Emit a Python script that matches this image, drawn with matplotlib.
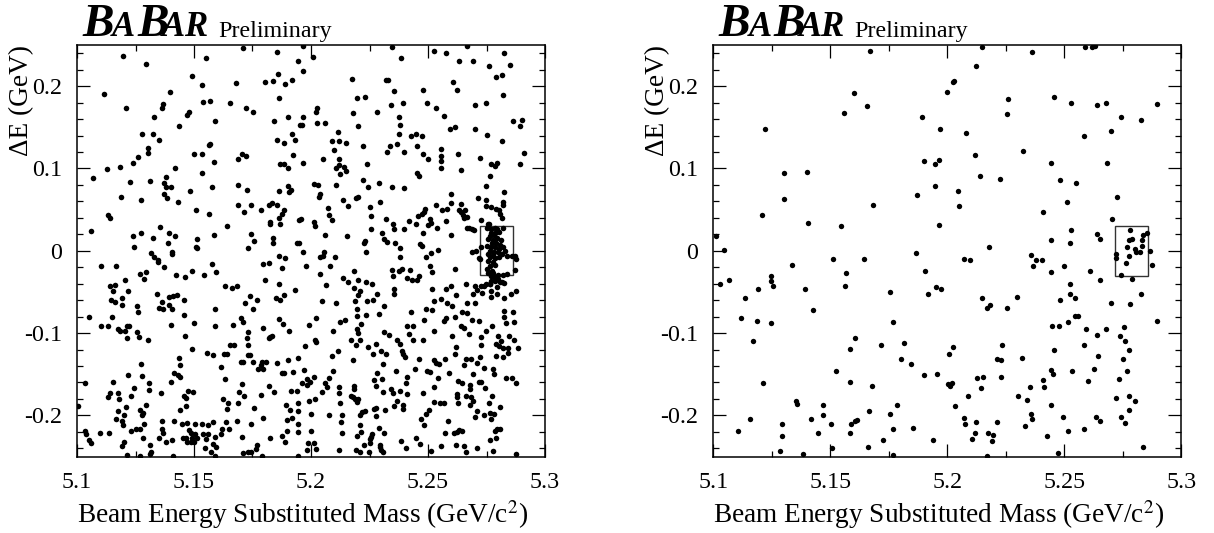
import numpy as np
import matplotlib
matplotlib.use('Agg')
import matplotlib.pyplot as plt
from matplotlib.patches import Rectangle
from matplotlib.ticker import MultipleLocator, FixedLocator, FixedFormatter

plt.rcParams['font.family'] = ['Liberation Serif', 'DejaVu Serif']

x_ticks = [5.1, 5.15, 5.2, 5.25, 5.3]
x_tick_labels = ['5.1', '5.15', '5.2', '5.25', '5.3']
y_ticks = [-0.2, -0.1, 0, 0.1, 0.2]
y_tick_labels = ['-0.2', '-0.1', '0', '0.1', '0.2']

# (mES, deltaE) procitano sa slike
left_upper_a = [
    (5.1709,.246),(5.1855,.241),(5.1195,.237),(5.1943,.231),(5.1550,.234),(5.1296,.227),(5.1858,.215),(5.1493,.212),
    (5.1681,.204),(5.1802,.205),(5.1839,.206),(5.1889,.203),(5.1920,.207),(5.1533,.202),(5.1397,.193),(5.1117,.191),
    (5.1865,.185),(5.1537,.181),(5.1568,.182),(5.1652,.179),(5.1369,.178),(5.1208,.174),(5.1365,.173),(5.1722,.173),
    (5.1751,.168),(5.1480,.169),(5.1470,.165),(5.1328,.162),(5.1900,.163),(5.1591,.158),(5.1840,.158),(5.1436,.152),
    (5.1952,.153),(5.1278,.142),(5.1325,.142),(5.1919,.142),(5.1349,.135),(5.1853,.134),(5.1932,.135),(5.1885,.131),
    (5.1567,.130),(5.1564,.128),(5.1303,.125),(5.1305,.119),(5.1499,.118),(5.1533,.118),(5.1704,.118),(5.1721,.115),
    (5.1689,.111),(5.1923,.116),(5.1259,.114),(5.1241,.107),(5.1585,.108),(5.1868,.106),(5.1886,.105),(5.1903,.100),
    (5.1185,.102),(5.1420,.101),(5.1128,.099),(5.1534,.095),(5.1070,.089),(5.1380,.090),(5.1313,.085),(5.1225,.084),
    (5.1372,.082),(5.1382,.078),(5.1402,.077),(5.1577,.078),(5.1688,.080),(5.1902,.079),(5.1725,.074),(5.1481,.072),
    (5.1862,.073),(5.1905,.071),(5.1915,.074),(5.1370,.069),(5.1187,.065),(5.1383,.064),(5.1272,.062),(5.1433,.059),
    (5.1688,.056),(5.1742,.055),(5.1819,.055),(5.1835,.058),(5.1855,.056),(5.1786,.050),(5.1712,.047),(5.1509,.050),
    (5.1564,.045),(5.1886,.050),(5.1876,.045),(5.1862,.040),(5.1134,.044),(5.1142,.040),(5.1949,.037),(5.1825,.035),
    (5.1826,.032),(5.1868,.033),(5.1641,.030),(5.1356,.029),(5.1058,.024),(5.1274,.022),(5.1395,.022),(5.1745,.020),
    (5.1239,.018),(5.1420,.018),(5.1584,.019),(5.1323,.015),(5.1839,.016),(5.1511,.014),(5.1758,.012),(5.1390,.010),
    (5.1839,.009),(5.1940,.010),(5.1245,.005),(5.1507,.005),(5.1513,.003),(5.1731,.003),(5.1407,-.002),(5.1406,-.004),
    (5.1315,-.003),(5.1330,-.007),(5.1862,-.006),(5.1887,-.009),(5.1348,-.011),
]
left_upper_b = [
    (5.1964,.249),(5.2346,.248),(5.2668,.249),(5.2524,.243),(5.2578,.240),(5.2823,.240),(5.2007,.235),(5.2386,.234),
    (5.2631,.230),(5.2691,.231),(5.2849,.226),(5.2759,.225),(5.1967,.219),(5.2816,.214),(5.2791,.211),(5.2175,.209),
    (5.2322,.208),(5.2329,.208),(5.2608,.205),(5.2356,.194),(5.2479,.195),(5.2624,.195),(5.2821,.189),(5.2195,.186),
    (5.2231,.187),(5.2497,.180),(5.2393,.180),(5.2342,.177),(5.2702,.177),(5.2749,.179),(5.2534,.173),(5.2024,.173),
    (5.2021,.168),(5.2178,.167),(5.2283,.168),(5.2567,.164),(5.1964,.163),(5.2377,.162),(5.2903,.159),(5.2862,.158),
    (5.2026,.155),(5.2061,.155),(5.1960,.153),(5.2379,.153),(5.2199,.152),(5.2893,.152),(5.2615,.150),(5.2593,.148),
    (5.2699,.148),(5.2114,.144),(5.2449,.142),(5.2377,.142),(5.2754,.141),(5.2426,.139),(5.2473,.139),(5.2091,.133),
    (5.2118,.133),(5.2818,.133),(5.2151,.131),(5.2369,.130),(5.2224,.127),(5.2453,.127),(5.2336,.127),(5.2554,.124),
    (5.2100,.122),(5.2323,.120),(5.2397,.120),(5.2912,.119),(5.2480,.118),(5.2630,.117),(5.2556,.115),(5.2724,.113),
    (5.2499,.112),(5.2051,.112),(5.2118,.111),(5.2556,.109),(5.1967,.107),(5.2771,.106),(5.2795,.107),(5.2785,.103),
    (5.2892,.106),(5.2239,.105),(5.2118,.104),(5.2142,.102),(5.2107,.100),(5.2557,.101),(5.2148,.097),(5.2642,.098),
    (5.2125,.093),(5.2452,.094),(5.2460,.091),(5.2766,.091),(5.2222,.086),(5.2011,.081),(5.2028,.080),(5.2107,.080),
    (5.2291,.082),(5.2749,.079),(5.2242,.077),(5.2348,.077),(5.2396,.076),(5.2826,.071),(5.2600,.069),(5.2040,.069),
    (5.2033,.065),(5.2201,.065),(5.2191,.064),(5.2712,.064),(5.2137,.062),(5.2749,.062),(5.2296,.059),(5.2821,.059),
    (5.2597,.058),(5.2640,.057),(5.2820,.056),(5.2160,.054),(5.2534,.055),(5.2252,.053),(5.2748,.054),(5.2769,.053),
    (5.2074,.052),(5.2560,.050),(5.2583,.051),(5.2487,.051),(5.2791,.051),(5.2802,.049),(5.2631,.049),(5.2640,.047),
    (5.2657,.049),(5.2481,.047),(5.2806,.045),(5.2474,.045),(5.2078,.043),(5.2648,.043),(5.2459,.042),(5.2258,.042),
    (5.2816,.040),(5.2652,.040),(5.2668,.041),(5.1959,.039),(5.2319,.038),(5.2090,.037),(5.2510,.038),(5.2578,.036),
    (5.2725,.037),(5.2417,.036),(5.2014,.035),(5.2514,.034),(5.2761,.033),(5.2352,.032),(5.2450,.032),(5.2501,.031),
    (5.2017,.030),(5.2540,.028),(5.2353,.027),(5.2665,.028),(5.2675,.028),(5.2258,.027),(5.2396,.026),(5.2687,.027),
    (5.2698,.025),(5.2302,.021),(5.2479,.021),(5.2058,.019),(5.2155,.018),(5.2600,.019),(5.2311,.014),(5.2325,.011),
    (5.1947,.009),(5.2232,.012),(5.2225,.009),(5.2360,.009),(5.2467,.008),(5.2474,.006),(5.2379,.003),(5.2544,.001),
    (5.2511,-.003),(5.2687,-.002),(5.2707,.000),(5.2728,.005),(5.1966,-.002),(5.2057,-.001),(5.2236,-.001),(5.2050,-.006),
    (5.2037,-.008),(5.2103,-.008),(5.2380,-.008),(5.2490,-.008),(5.2719,-.009),
]
left_signal = [
    (5.2751,.028),(5.2768,.027),(5.2786,.028),(5.2796,.026),(5.2822,.028),(5.2786,.022),(5.2768,.021),(5.2805,.023),
    (5.2765,.018),(5.2782,.019),(5.2758,.014),(5.2776,.013),(5.2793,.015),(5.2811,.013),(5.2772,.009),(5.2791,.010),
    (5.2808,.007),(5.2754,.006),(5.2768,.004),(5.2786,.004),(5.2805,.002),(5.2822,.004),(5.2829,.000),(5.2765,.000),
    (5.2782,-.001),(5.2801,-.002),(5.2758,-.004),(5.2776,-.005),(5.2815,-.004),(5.2836,-.006),(5.2858,-.006),(5.2872,-.006),
    (5.2876,-.010),(5.2765,-.008),(5.2786,-.009),(5.2805,-.008),(5.2758,-.012),(5.2722,-.010),(5.2776,-.014),(5.2765,-.018),
    (5.2786,-.017),(5.2754,-.022),(5.2772,-.024),(5.2872,-.023),(5.2758,-.027),(5.2776,-.027),(5.2836,-.028),(5.2801,-.030),
    (5.2822,-.029),(5.2768,-.031),(5.2782,-.032),(5.2801,-.034),(5.2786,-.037),(5.2815,-.038),(5.2765,-.040),(5.2748,-.040),
    (5.2758,.033),
]
left_lower_a = [
    (5.1101,-.019),(5.1165,-.019),(5.1345,-.014),(5.1373,-.020),(5.1578,-.016),(5.1793,-.016),(5.1822,-.015),(5.1875,-.021),
    (5.1493,-.024),(5.1594,-.026),(5.1271,-.028),(5.1293,-.026),(5.1422,-.030),(5.1541,-.030),(5.1460,-.032),(5.1288,-.034),
    (5.1205,-.035),(5.1803,-.036),(5.1862,-.040),(5.1142,-.043),(5.1162,-.042),(5.1631,-.043),(5.1661,-.045),(5.1684,-.043),
    (5.1152,-.049),(5.1219,-.049),(5.1933,-.048),(5.1340,-.052),(5.1395,-.056),(5.1412,-.055),(5.1427,-.054),(5.1741,-.055),
    (5.1886,-.054),(5.1852,-.058),(5.1868,-.060),(5.1192,-.058),(5.1457,-.060),(5.1771,-.060),(5.1147,-.060),(5.1164,-.062),
    (5.1363,-.062),(5.1191,-.066),(5.1392,-.066),(5.1719,-.064),(5.1256,-.067),(5.1352,-.069),(5.1369,-.071),(5.1407,-.071),
    (5.1590,-.071),(5.1751,-.071),(5.1262,-.075),(5.1456,-.078),(5.1051,-.080),(5.1148,-.081),(5.1701,-.082),(5.1711,-.086),
    (5.1865,-.083),(5.1501,-.088),(5.1882,-.089),(5.1402,-.090),(5.1667,-.090),(5.1104,-.092),(5.1131,-.091),(5.1591,-.092),
    (5.1212,-.092),(5.1222,-.092),(5.1177,-.095),(5.1185,-.098),(5.1205,-.098),(5.1796,-.094),(5.1906,-.097),(5.1256,-.099),
    (5.1732,-.099),(5.1463,-.103),(5.1832,-.103),(5.1826,-.105),(5.1819,-.106),(5.1215,-.106),(5.1264,-.105),(5.1725,-.106),
    (5.1305,-.109),(5.1654,-.114),(5.1671,-.115),(5.1729,-.115),(5.1491,-.119),(5.1554,-.124),(5.1581,-.127),(5.1628,-.126),
    (5.1641,-.126),(5.1732,-.127),(5.1741,-.127),(5.1437,-.130),(5.1946,-.130),(5.1699,-.135),(5.1711,-.135),(5.1751,-.135),
    (5.1789,-.135),(5.1808,-.135),(5.1902,-.133),(5.1853,-.136),(5.1440,-.139),(5.1272,-.138),(5.1614,-.141),(5.1786,-.139),
    (5.1772,-.144),(5.1793,-.144),(5.1415,-.149),(5.1432,-.151),(5.1442,-.153),(5.1886,-.148),(5.1877,-.149),(5.1922,-.147),
    (5.1219,-.151),(5.1276,-.152),(5.1632,-.156),(5.1155,-.159),(5.1034,-.161),(5.1306,-.161),(5.1403,-.159),(5.1707,-.162),
    (5.1819,-.164),(5.1245,-.167),(5.1308,-.169),(5.1473,-.171),(5.1496,-.172),(5.1692,-.172),(5.1915,-.171),(5.1940,-.171),
    (5.1140,-.173),(5.1175,-.173),(5.1360,-.173),(5.1843,-.172),(5.1715,-.176),(5.1786,-.175),(5.1131,-.178),(5.1232,-.176),
    (5.1459,-.177),(5.1466,-.179),(5.1178,-.180),(5.1625,-.180),(5.1645,-.185),(5.1688,-.185),(5.1895,-.187),(5.1943,-.185),
    (5.1208,-.190),(5.1296,-.188),(5.1466,-.189),(5.1642,-.192),(5.1758,-.191),(5.1003,-.189),(5.1439,-.193),(5.1912,-.194),
    (5.1943,-.195),(5.1174,-.195),(5.1269,-.194),(5.1282,-.197),(5.1276,-.200),(5.1201,-.200),(5.1795,-.203),(5.1917,-.203),
    (5.1899,-.206),(5.1165,-.205),(5.1192,-.207),(5.1365,-.207),(5.1415,-.207),(5.1583,-.208),(5.1637,-.208),(5.1682,-.207),
    (5.1944,-.210),(5.1285,-.211),(5.1450,-.210),(5.1472,-.209),(5.1506,-.210),(5.1534,-.210),(5.1560,-.212),(5.1744,-.211),
    (5.1195,-.212),(5.1252,-.216),(5.1269,-.216),(5.1362,-.217),(5.1618,-.217),(5.1648,-.217),(5.1034,-.219),(5.1232,-.219),
    (5.1477,-.218),(5.1899,-.219),(5.1943,-.220),(5.1100,-.221),(5.1135,-.221),(5.1038,-.223),(5.1369,-.222),(5.1486,-.221),
    (5.1540,-.223),(5.1558,-.223),(5.1615,-.223),(5.1877,-.225),(5.1504,-.223),(5.1283,-.227),(5.1352,-.227),(5.1452,-.227),
    (5.1466,-.227),(5.1491,-.227),(5.1511,-.227),(5.1550,-.229),(5.1590,-.226),(5.1705,-.226),(5.1825,-.228),(5.1050,-.230),
    (5.1058,-.233),(5.1202,-.232),(5.1380,-.232),(5.1407,-.230),(5.1469,-.232),(5.1486,-.232),(5.1501,-.232),(5.1889,-.232),
    (5.1192,-.237),(5.1311,-.236),(5.1580,-.235),(5.1595,-.238),(5.1769,-.236),(5.1548,-.240),(5.1764,-.241),(5.1318,-.245),
    (5.1312,-.247),(5.1574,-.245),(5.1708,-.246),(5.1729,-.244),(5.1742,-.245),(5.1212,-.248),(5.1271,-.249),(5.1410,-.249),
    (5.1591,-.249),(5.1789,-.249),(5.1943,-.249),
]
left_lower_b = [
    (5.1979,-.019),(5.2080,-.018),(5.2185,-.024),(5.2345,-.023),(5.2376,-.024),(5.2390,-.022),(5.2425,-.023),(5.2509,-.019),
    (5.2615,-.022),(5.2517,-.026),(5.2038,-.028),(5.2349,-.031),(5.2410,-.033),(5.2432,-.035),(5.2453,-.035),(5.2462,-.031),
    (5.2137,-.033),(5.2202,-.035),(5.2158,-.038),(5.2236,-.038),(5.2261,-.040),(5.2066,-.042),(5.2662,-.041),(5.2699,-.043),
    (5.2726,-.043),(5.2741,-.043),(5.2769,-.037),(5.2766,-.041),(5.2795,-.044),(5.2809,-.038),(5.2826,-.039),(5.2598,-.043),
    (5.2577,-.046),(5.2182,-.045),(5.2353,-.047),(5.2355,-.052),(5.2208,-.049),(5.2201,-.054),(5.2282,-.053),(5.2517,-.047),
    (5.2709,-.048),(5.2692,-.052),(5.2731,-.051),(5.2769,-.049),(5.2769,-.056),(5.2795,-.053),(5.2823,-.058),(5.2855,-.053),
    (5.2876,-.049),(5.2621,-.054),(5.2554,-.059),(5.2524,-.061),(5.2047,-.061),(5.2105,-.063),(5.2189,-.061),(5.2241,-.061),
    (5.2264,-.060),(5.2581,-.064),(5.2603,-.067),(5.2702,-.064),(5.2668,-.064),(5.2312,-.067),(5.2197,-.071),(5.2490,-.071),
    (5.2516,-.072),(5.2429,-.075),(5.2823,-.073),(5.2863,-.074),(5.2645,-.075),(5.2667,-.076),(5.2291,-.077),(5.2197,-.079),
    (5.2235,-.078),(5.2617,-.081),(5.2021,-.082),(5.2147,-.084),(5.2125,-.087),(5.2484,-.084),(5.2567,-.085),(5.2577,-.082),
    (5.2687,-.084),(5.2718,-.085),(5.2823,-.080),(5.2832,-.088),(5.2869,-.086),(5.1993,-.090),(5.2215,-.089),(5.2410,-.092),
    (5.2436,-.092),(5.2774,-.091),(5.2642,-.091),(5.2652,-.094),(5.2093,-.098),(5.2195,-.095),(5.2199,-.100),(5.2524,-.097),
    (5.2749,-.098),(5.2313,-.099),(5.2332,-.102),(5.2419,-.101),(5.2675,-.101),(5.2603,-.104),(5.2725,-.105),(5.2798,-.104),
    (5.2845,-.104),(5.2017,-.108),(5.2023,-.111),(5.2172,-.108),(5.2208,-.109),(5.2192,-.114),(5.2369,-.109),(5.2382,-.113),
    (5.2434,-.109),(5.2480,-.108),(5.2812,-.110),(5.2866,-.109),(5.2792,-.113),(5.2803,-.116),(5.2821,-.118),(5.2883,-.118),
    (5.1976,-.116),(5.2245,-.117),(5.2279,-.113),(5.2621,-.117),(5.2725,-.115),(5.2840,-.118),(5.2843,-.124),(5.2117,-.122),
    (5.2301,-.122),(5.2319,-.126),(5.2390,-.122),(5.2393,-.126),(5.2402,-.129),(5.2265,-.126),(5.2090,-.128),(5.2617,-.125),
    (5.2789,-.128),(5.2821,-.129),(5.2724,-.129),(5.2181,-.133),(5.2462,-.132),(5.2524,-.133),(5.2534,-.136),(5.2548,-.137),
    (5.2574,-.131),(5.2661,-.132),(5.2685,-.131),(5.2655,-.139),(5.2708,-.136),(5.2308,-.137),(5.2741,-.142),(5.2778,-.144),
    (5.2781,-.150),(5.2446,-.144),(5.2496,-.146),(5.2510,-.147),(5.2365,-.146),(5.2094,-.146),(5.2281,-.148),(5.1970,-.145),
    (5.2588,-.148),(5.2692,-.150),(5.2077,-.155),(5.2014,-.153),(5.2410,-.154),(5.2543,-.155),(5.2269,-.157),(5.2302,-.156),
    (5.2835,-.155),(5.2858,-.155),(5.1983,-.156),(5.1997,-.159),(5.1963,-.161),(5.1983,-.163),(5.2628,-.158),(5.2719,-.159),
    (5.2728,-.159),(5.2645,-.161),(5.2876,-.161),(5.2061,-.161),(5.2067,-.165),(5.2120,-.165),(5.2185,-.164),(5.2182,-.168),
    (5.2278,-.164),(5.2407,-.161),(5.2526,-.165),(5.2679,-.163),(5.2678,-.168),(5.2742,-.167),(5.2342,-.168),(5.2382,-.170),
    (5.2047,-.172),(5.2120,-.173),(5.2309,-.172),(5.2350,-.173),(5.2409,-.174),(5.2480,-.173),(5.2171,-.176),(5.2179,-.178),
    (5.2662,-.176),(5.2775,-.177),(5.2624,-.174),(5.2623,-.178),(5.2685,-.178),(5.2016,-.180),(5.1991,-.182),(5.2189,-.180),
    (5.2202,-.180),(5.2197,-.184),(5.2125,-.185),(5.2366,-.183),(5.2628,-.185),(5.2524,-.184),(5.2550,-.185),(5.2570,-.185),
    (5.2691,-.182),(5.2681,-.187),(5.2759,-.185),(5.2355,-.189),(5.2392,-.187),(5.2392,-.192),(5.2809,-.190),(5.2269,-.192),
    (5.2279,-.191),(5.2316,-.193),(5.2709,-.195),(5.2506,-.193),(5.2232,-.195),(5.2218,-.196),(5.2208,-.200),(5.2490,-.198),
    (5.2000,-.198),(5.2078,-.200),(5.2131,-.200),(5.2276,-.201),(5.2738,-.199),(5.2764,-.197),(5.2781,-.198),(5.2769,-.205),
    (5.2702,-.202),(5.2469,-.204),(5.2127,-.208),(5.2584,-.207),(5.2484,-.212),(5.2208,-.212),(5.2289,-.215),(5.2809,-.216),
    (5.2795,-.217),(5.2785,-.219),(5.2645,-.219),(5.2631,-.218),(5.2610,-.221),(5.2573,-.221),(5.2624,-.220),(5.2215,-.220),
    (5.2132,-.221),(5.2000,-.219),(5.2311,-.222),(5.2259,-.223),(5.2256,-.226),(5.2195,-.225),(5.2449,-.227),(5.2792,-.227),
    (5.2764,-.230),(5.2254,-.229),(5.2386,-.231),(5.1987,-.233),(5.2014,-.233),(5.2254,-.233),(5.2464,-.235),(5.2620,-.236),
    (5.2557,-.237),(5.2652,-.237),(5.2226,-.236),(5.2293,-.236),(5.2295,-.239),(5.2407,-.240),(5.2709,-.240),(5.1983,-.242),
    (5.2020,-.241),(5.2121,-.242),(5.2191,-.242),(5.2211,-.244),(5.2248,-.244),(5.2301,-.242),(5.2308,-.244),(5.2514,-.243),
    (5.2662,-.245),(5.2776,-.243),(5.2875,-.247),
]
right_events_a = [
    (5.1668,.243),(5.1600,.192),(5.1655,.176),(5.1557,.167),(5.1893,.162),(5.1219,.148),(5.1900,.109),(5.1301,.095),
    (5.1399,.096),(5.1872,.068),(5.1301,.063),(5.1681,.056),(5.1209,.044),(5.1406,.034),(5.1546,.030),(5.1011,.018),
    (5.1046,.001),(5.1866,-.003),(5.1513,-.010),(5.1642,-.010),(5.1335,-.017),(5.1568,-.027),(5.1905,-.025),(5.1245,-.031),
    (5.1248,-.037),(5.1256,-.043),(5.1068,-.036),(5.1030,-.041),(5.1192,-.046),(5.1393,-.047),(5.1561,-.043),(5.1756,-.050),
    (5.1916,-.053),(5.1135,-.058),(5.1425,-.072),(5.1118,-.082),(5.1185,-.085),(5.1246,-.088),(5.1769,-.087),(5.1170,-.110),
    (5.1604,-.106),(5.1585,-.119),(5.1717,-.114),(5.1813,-.112),(5.1803,-.131),(5.1846,-.138),(5.1526,-.146),(5.1899,-.151),
    (5.1214,-.161),(5.1584,-.159),(5.1679,-.164),(5.1353,-.182),(5.1356,-.186),(5.1467,-.187),(5.1786,-.187),(5.1665,-.195),
    (5.1754,-.198),(5.1470,-.199),(5.1158,-.205),(5.1416,-.204),(5.1292,-.211),(5.1503,-.210),(5.1587,-.210),(5.1605,-.207),
    (5.1615,-.206),(5.1852,-.215),(5.1769,-.217),(5.1105,-.219),(5.1449,-.222),(5.1585,-.222),(5.1292,-.225),(5.1724,-.230),
    (5.1661,-.239),(5.1507,-.240),(5.1283,-.243),(5.1385,-.247),(5.1769,-.248),
]
right_events_b = [
    (5.2147,.247),(5.2363,.242),(5.2587,.247),(5.2620,.248),(5.2632,.249),(5.2124,.225),(5.2030,.206),(5.2026,.205),
    (5.1997,.193),(5.2261,.184),(5.2457,.187),(5.2530,.180),(5.2641,.177),(5.2678,.180),(5.2895,.178),(5.2256,.166),
    (5.2741,.163),(5.2828,.159),(5.1967,.148),(5.2080,.143),(5.2698,.145),(5.2584,.140),(5.2120,.116),(5.2325,.121),
    (5.1946,.105),(5.1963,.110),(5.2444,.107),(5.2684,.107),(5.2140,.091),(5.2224,.087),(5.2483,.086),(5.2550,.082),
    (5.1946,.079),(5.2044,.073),(5.2724,.065),(5.2510,.059),(5.2051,.054),(5.2407,.047),(5.2702,.039),(5.1963,.031),
    (5.2530,.025),(5.2779,.025),(5.2852,.022),(5.2835,.019),(5.2638,.020),(5.2654,.014),(5.2442,.013),(5.2523,.010),
    (5.2789,.014),(5.2778,.013),(5.2830,.013),(5.2832,.006),(5.2766,.004),(5.2177,.004),(5.2801,.002),(5.2822,-.002),
    (5.2805,-.001),(5.2865,.000),(5.2721,-.004),(5.2721,-.009),(5.2775,-.006),(5.2359,-.005),(5.2070,-.010),(5.2097,-.011),
    (5.2379,-.011),(5.2403,-.011),(5.2762,-.015),(5.2876,-.017),(5.2368,-.018),(5.2497,-.019),(5.2443,-.026),(5.2610,-.024),
    (5.2744,-.030),(5.2791,-.034),(5.2652,-.035),(5.2526,-.041),(5.1953,-.044),(5.1972,-.046),(5.2829,-.053),(5.2524,-.052),
    (5.2546,-.058),(5.2148,-.057),(5.2296,-.056),(5.2481,-.060),(5.2699,-.064),(5.2782,-.065),(5.2182,-.066),(5.2168,-.070),
    (5.2254,-.070),(5.2557,-.079),(5.2547,-.079),(5.2516,-.086),(5.2895,-.085),(5.2447,-.092),(5.2479,-.092),(5.2593,-.095),
    (5.2677,-.095),(5.2754,-.093),(5.2640,-.102),(5.2739,-.103),(5.2758,-.110),(5.2234,-.115),(5.2583,-.115),(5.2023,-.117),
    (5.2006,-.125),(5.2457,-.120),(5.2776,-.120),(5.2645,-.128),(5.2749,-.131),(5.2321,-.130),(5.2212,-.132),(5.2231,-.133),
    (5.2443,-.145),(5.2453,-.150),(5.2534,-.146),(5.2628,-.144),(5.2768,-.146),(5.1956,-.150),(5.2128,-.155),(5.2154,-.154),
    (5.2228,-.154),(5.2409,-.157),(5.2734,-.156),(5.2600,-.158),(5.2003,-.162),(5.2019,-.161),(5.2010,-.164),(5.2142,-.167),
    (5.2352,-.165),(5.2413,-.166),(5.2087,-.177),(5.2303,-.177),(5.2339,-.181),(5.2719,-.179),(5.2778,-.176),(5.2803,-.183),
    (5.2443,-.187),(5.2031,-.189),(5.2778,-.193),(5.2356,-.198),(5.2362,-.204),(5.2071,-.203),(5.2074,-.210),(5.2123,-.208),
    (5.2211,-.208),(5.2493,-.202),(5.2637,-.202),(5.2651,-.207),(5.2741,-.202),(5.2758,-.209),(5.2332,-.213),(5.2584,-.216),
    (5.2517,-.219),(5.2120,-.221),(5.2175,-.221),(5.2195,-.224),(5.2426,-.225),(5.2104,-.229),(5.2189,-.231),(5.1940,-.230),
    (5.2835,-.239),(5.2474,-.246),(5.2168,-.249),
]

left_points = np.array(left_upper_a + left_upper_b + left_signal + left_lower_a + left_lower_b)
right_points = np.array(right_events_a + right_events_b)

left_box = (5.2721, 5.2862, -0.030, 0.030)
right_box = (5.2718, 5.2859, -0.031, 0.030)

W, H = 1214, 533


def make_panel(left_px, points, box, dot_size):
    ax = fig.add_axes([left_px / W, 1 - 456.5 / H, 468 / W, 411.5 / H])
    ax.scatter(points[:, 0], points[:, 1], s=dot_size, color='black', linewidths=0, zorder=3)
    ax.add_patch(Rectangle((box[0], box[2]), box[1] - box[0], box[3] - box[2],
                           fill=False, edgecolor='#333333', linewidth=1.0, zorder=2))
    ax.set_xlim(5.1, 5.3)
    ax.set_ylim(-0.25, 0.25)
    ax.xaxis.set_major_locator(FixedLocator(x_ticks))
    ax.xaxis.set_major_formatter(FixedFormatter(x_tick_labels))
    ax.yaxis.set_major_locator(FixedLocator(y_ticks))
    ax.yaxis.set_major_formatter(FixedFormatter(y_tick_labels))
    ax.xaxis.set_minor_locator(MultipleLocator(0.025))
    ax.yaxis.set_minor_locator(MultipleLocator(0.02))
    ax.tick_params(which='major', direction='in', length=9.5, width=0.9, top=True, right=True,
                   labelsize=17.3, pad=11)
    ax.tick_params(which='minor', direction='in', length=4.5, width=0.9, top=True, right=True)
    for s in ax.spines.values():
        s.set_linewidth(1.1)
    ax.set_xlabel('Beam Energy Substituted Mass (GeV/c$^{2}$)', fontsize=19.6, labelpad=4,
                  x=0.0, ha='left', math_fontfamily='stix')
    ax.text(-0.118, 1.0, '\u0394E (GeV)', transform=ax.transAxes, rotation=90, fontsize=19.6,
            ha='center', va='top')
    # logo BaBar, velika i mala slova posebno
    for dx, txt, size in [(5, 'B', 34), (35, 'A', 25), (60, 'B', 34), (85, 'A', 25), (107, 'R', 25)]:
        fig.text((left_px + dx) / W, 1 - 36.5 / H, txt, fontsize=size, fontweight='bold',
                 fontstyle='italic', ha='left', va='baseline')
    fig.text((left_px + 141) / W, 1 - 36.5 / H, 'Preliminary', fontsize=17.3, ha='left', va='baseline')
    return ax


fig = plt.figure(figsize=(W / 100, H / 100), dpi=100)
make_panel(77, left_points, left_box, 16)
make_panel(713.3, right_points, right_box, 15)
fig.savefig('out.png', dpi=100)
plt.close(fig)
